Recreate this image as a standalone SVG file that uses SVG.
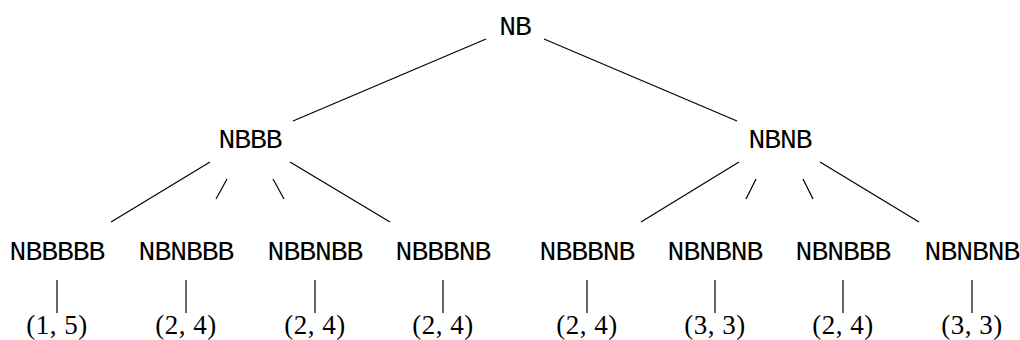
<svg xmlns="http://www.w3.org/2000/svg" width="1020" height="340" viewBox="0 0 1020 340">
<style>
.n{font-family:"Liberation Mono","DejaVu Sans Mono",monospace;font-size:28px;letter-spacing:-1px;text-anchor:middle;fill:#000}
.t{font-family:"Liberation Serif","DejaVu Serif",serif;font-size:27px;text-anchor:middle;fill:#000;letter-spacing:0.5px}
.e line{stroke:#000;stroke-width:1.2;fill:none}
</style>
<rect width="1020" height="340" fill="#fff"/>
<g id="connectors" class="e">
<line x1="486" y1="39" x2="293" y2="121"/>
<line x1="544" y1="39" x2="737" y2="121"/>
<line x1="210" y1="162" x2="111" y2="222"/>
<line x1="227" y1="179" x2="216" y2="199"/>
<line x1="273" y1="179" x2="284" y2="199"/>
<line x1="290" y1="162" x2="390" y2="222"/>
<line x1="739" y1="162" x2="641" y2="222"/>
<line x1="756" y1="179" x2="746" y2="199"/>
<line x1="803" y1="179" x2="813" y2="199"/>
<line x1="820" y1="162" x2="919" y2="222"/>
<line x1="57" y1="280" x2="57" y2="313"/>
<line x1="186" y1="280" x2="186" y2="313"/>
<line x1="315" y1="280" x2="315" y2="313"/>
<line x1="443" y1="280" x2="443" y2="313"/>
<line x1="587" y1="280" x2="587" y2="313"/>
<line x1="715" y1="280" x2="715" y2="313"/>
<line x1="843" y1="280" x2="843" y2="313"/>
<line x1="972" y1="280" x2="972" y2="313"/>
</g>
<g id="root"><text class="n" x="515" y="35">NB</text></g>
<g id="nbbb"><text class="n" x="250" y="148">NBBB</text></g>
<g id="nbnb"><text class="n" x="780" y="148">NBNB</text></g>
<g id="l1"><text class="n" x="57" y="260">NBBBBB</text></g>
<g id="l2"><text class="n" x="186" y="260">NBNBBB</text></g>
<g id="l3"><text class="n" x="315" y="260">NBBNBB</text></g>
<g id="l4"><text class="n" x="443" y="260">NBBBNB</text></g>
<g id="l5"><text class="n" x="587" y="260">NBBBNB</text></g>
<g id="l6"><text class="n" x="715" y="260">NBNBNB</text></g>
<g id="l7"><text class="n" x="843" y="260">NBNBBB</text></g>
<g id="l8"><text class="n" x="972" y="260">NBNBNB</text></g>
<g id="v1"><text class="t" x="57" y="334">(1, 5)</text></g>
<g id="v2"><text class="t" x="186" y="334">(2, 4)</text></g>
<g id="v3"><text class="t" x="315" y="334">(2, 4)</text></g>
<g id="v4"><text class="t" x="443" y="334">(2, 4)</text></g>
<g id="v5"><text class="t" x="587" y="334">(2, 4)</text></g>
<g id="v6"><text class="t" x="715" y="334">(3, 3)</text></g>
<g id="v7"><text class="t" x="843" y="334">(2, 4)</text></g>
<g id="v8"><text class="t" x="972" y="334">(3, 3)</text></g>
</svg>
